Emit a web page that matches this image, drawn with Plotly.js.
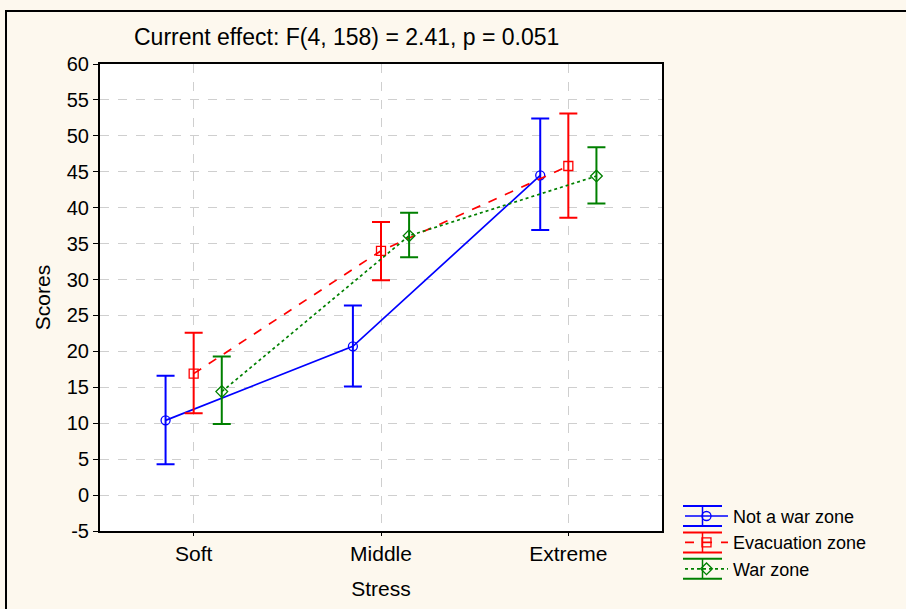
<!DOCTYPE html>
<html>
<head>
<meta charset="utf-8">
<script src="https://cdn.plot.ly/plotly-3.0.1.min.js"></script>
<style>
html,body{margin:0;padding:0;background:#fdf8ee;}
#chart{width:906px;height:609px;}
#frame{position:absolute;left:5px;top:10px;width:1200px;height:1200px;border:2px solid #000;pointer-events:none;}
</style>
</head>
<body>
<div id="chart"></div>
<div id="frame"></div>
<script>
const categories = ["Soft", "Middle", "Extreme"];
const seriesNames = ["Not a war zone", "Evacuation zone", "War zone"];
const notWarMean = [10.4, 20.7, 44.5];
const notWarUpper = [16.6, 26.4, 52.4];
const notWarLower = [4.3, 15.1, 36.9];
const evacMean = [16.9, 34.0, 45.8];
const evacUpper = [22.6, 38.0, 53.1];
const evacLower = [11.4, 29.9, 38.6];
const warMean = [14.4, 36.1, 44.4];
const warUpper = [19.3, 39.3, 48.4];
const warLower = [9.9, 33.1, 40.6];
const yTicks = [-5, 0, 5, 10, 15, 20, 25, 30, 35, 40, 45, 50, 55, 60];

const offsets = [-0.15, 0, 0.15];
const colors = ["#0000ff", "#ff0000", "#008000"];
const dashes = ["solid", "dash", "dot"];
const symbols = ["circle-open", "square-open", "diamond-open"];
const means = [notWarMean, evacMean, warMean];
const uppers = [notWarUpper, evacUpper, warUpper];
const lowers = [notWarLower, evacLower, warLower];

const traces = means.map((m, s) => ({
  type: "scatter",
  mode: "lines+markers",
  name: seriesNames[s],
  x: categories.map((c, i) => i + offsets[s]),
  y: m,
  line: {color: colors[s], width: 1.7, dash: dashes[s]},
  marker: {symbol: symbols[s], size: 9, color: colors[s], line: {width: 1.3, color: colors[s]}},
  error_y: {
    type: "data", symmetric: false,
    array: uppers[s].map((u, i) => u - m[i]),
    arrayminus: m.map((v, i) => v - lowers[s][i]),
    color: colors[s], thickness: 2, width: 9
  }
}));

// legend "error bar" decoration (caps and stems) in paper coordinates
const L = 100, R = 662, T = 64, B = 531;
const px = x => (x - L) / (R - L);
const py = y => (B - y) / (B - T);
const legendCenters = [516, 542.4, 568.8];
const shapes = [];
legendCenters.forEach((c, s) => {
  [c - 10, c + 10].forEach(yy => shapes.push({type: "line", xref: "paper", yref: "paper",
    x0: px(683), x1: px(722), y0: py(yy), y1: py(yy), line: {color: colors[s], width: 2}}));
  shapes.push({type: "line", xref: "paper", yref: "paper",
    x0: px(702.5), x1: px(702.5), y0: py(c - 10), y1: py(c + 10), line: {color: colors[s], width: 1.5}});
});

const layout = {
  width: 906, height: 609,
  paper_bgcolor: "#fdf8ee",
  plot_bgcolor: "#ffffff",
  margin: {l: 100, r: 244, t: 64, b: 78},
  font: {family: "Liberation Sans, Arial, sans-serif", color: "#000"},
  title: {text: "Current effect: F(4, 158) = 2.41, p = 0.051", font: {size: 23, color: "#000"},
          x: 134/906, xanchor: "left", xref: "container", y: 1 - 37/609, yanchor: "middle", yref: "container"},
  xaxis: {
    range: [-0.5, 2.5], tickmode: "array", tickvals: categories.map((c, i) => i), ticktext: categories,
    showgrid: true, gridcolor: "#cfcfcf", griddash: "dash", gridwidth: 1,
    showline: true, linecolor: "#000", linewidth: 2, mirror: true,
    ticks: "outside", ticklen: 3, tickcolor: "#000", zeroline: false, automargin: false,
    tickfont: {size: 21},
    title: {text: "Stress", font: {size: 21}, standoff: 17}
  },
  yaxis: {
    range: [-5, 60], tickmode: "array", tickvals: yTicks, ticktext: yTicks.map(String),
    showgrid: true, gridcolor: "#cfcfcf", griddash: "dash", gridwidth: 1,
    showline: true, linecolor: "#000", linewidth: 2, mirror: true,
    ticks: "outside", ticklen: 5, tickcolor: "#000", zeroline: false, automargin: false,
    tickfont: {size: 20},
    title: {text: "Scores", font: {size: 21}, standoff: 10}
  },
  shapes: shapes,
  showlegend: true,
  legend: {x: px(680), xanchor: "left", y: py(497.8), yanchor: "top", bgcolor: "rgba(0,0,0,0)",
           font: {size: 18}, itemwidth: 43, tracegroupgap: 0}
};

Plotly.newPlot("chart", traces, layout, {displayModeBar: false, staticPlot: true});
</script>
</body>
</html>
